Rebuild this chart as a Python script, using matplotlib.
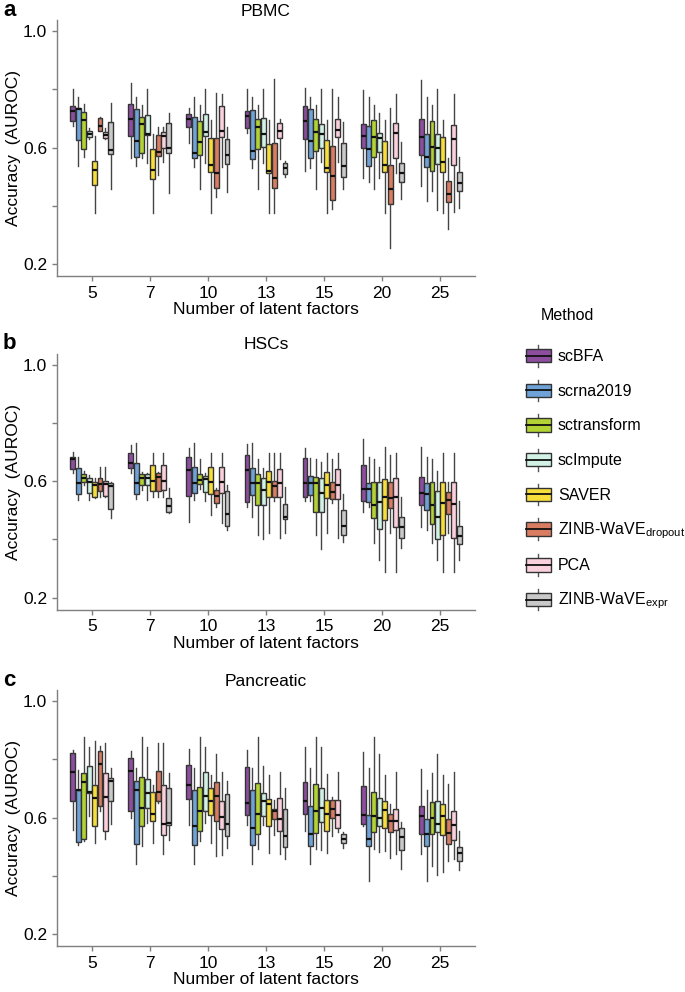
import matplotlib
matplotlib.use("Agg")
import matplotlib.pyplot as plt
from matplotlib.patches import Rectangle, Patch
from matplotlib.lines import Line2D
from matplotlib.legend_handler import HandlerBase

plt.rcParams['font.family'] = ['Liberation Sans', 'DejaVu Sans']
plt.rcParams['mathtext.default'] = 'regular'

factors = ["5", "7", "10", "13", "15", "20", "25"]
methods = ["scBFA", "scrna2019", "sctransform", "scImpute", "SAVER",
           "ZINB-WaVE_dropout", "PCA", "ZINB-WaVE_expr"]
method_labels = ["scBFA", "scrna2019", "sctransform", "scImpute", "SAVER",
                 "ZINB-WaVE$_{dropout}$", "PCA", "ZINB-WaVE$_{expr}$"]
colors = ["#8D4E9F", "#6FA3D8", "#B3D335", "#D3F2E6", "#F7DE3A",
          "#D97D62", "#FAD0DC", "#C9C9C9"]

# each entry: per factor [whisker_low, q1, median, q3, whisker_high]
pbmc = {
    "scBFA": [[0.674,0.692,0.725,0.742,0.80],[0.563,0.638,0.698,0.748,0.823],[0.614,0.669,0.698,0.714,0.735],[0.649,0.668,0.709,0.725,0.80],[0.519,0.629,0.691,0.742,0.803],[0.494,0.597,0.639,0.68,0.797],[0.469,0.574,0.635,0.698,0.832]],
    "scrna2019": [[0.536,0.626,0.731,0.735,0.773],[0.537,0.567,0.623,0.731,0.772],[0.534,0.563,0.582,0.704,0.772],[0.529,0.559,0.588,0.729,0.772],[0.529,0.563,0.623,0.731,0.772],[0.48,0.536,0.594,0.674,0.772],[0.416,0.534,0.568,0.646,0.772]],
    "sctransform": [[0.566,0.594,0.694,0.721,0.748],[0.565,0.581,0.681,0.706,0.746],[0.456,0.574,0.618,0.691,0.746],[0.456,0.594,0.669,0.698,0.746],[0.456,0.588,0.652,0.697,0.746],[0.456,0.568,0.635,0.694,0.746],[0.451,0.519,0.603,0.692,0.746]],
    "scImpute": [[0.63,0.635,0.646,0.658,0.667],[0.546,0.643,0.646,0.712,0.80],[0.546,0.639,0.654,0.714,0.80],[0.546,0.603,0.646,0.70,0.80],[0.55,0.599,0.646,0.68,0.80],[0.494,0.586,0.631,0.651,0.72],[0.385,0.542,0.597,0.645,0.80]],
    "SAVER": [[0.376,0.472,0.523,0.553,0.64],[0.376,0.493,0.523,0.595,0.646],[0.376,0.517,0.54,0.634,0.694],[0.376,0.513,0.519,0.612,0.694],[0.376,0.517,0.529,0.626,0.694],[0.376,0.517,0.54,0.622,0.694],[0.376,0.515,0.551,0.637,0.694]],
    "ZINB-WaVE_dropout": [[0.655,0.656,0.674,0.70,0.706],[0.506,0.571,0.586,0.643,0.669],[0.431,0.462,0.513,0.634,0.788],[0.374,0.462,0.494,0.614,0.834],[0.388,0.42,0.502,0.605,0.80],[0.254,0.406,0.456,0.54,0.735],[0.319,0.412,0.439,0.486,0.565]],
    "PCA": [[0.628,0.632,0.643,0.654,0.668],[0.551,0.597,0.639,0.654,0.669],[0.534,0.635,0.657,0.744,0.783],[0.56,0.634,0.657,0.685,0.697],[0.551,0.637,0.66,0.697,0.775],[0.511,0.565,0.649,0.685,0.783],[0.377,0.54,0.628,0.677,0.783]],
    "ZINB-WaVE_expr": [[0.457,0.577,0.591,0.689,0.752],[0.443,0.58,0.599,0.685,0.717],[0.446,0.543,0.574,0.628,0.669],[0.50,0.508,0.531,0.548,0.554],[0.456,0.50,0.537,0.617,0.686],[0.423,0.483,0.513,0.546,0.62],[0.391,0.451,0.477,0.517,0.566]],
}

hscs = {
    "scBFA": [[0.626,0.64,0.676,0.683,0.70],[0.626,0.644,0.661,0.695,0.724],[0.458,0.55,0.638,0.681,0.712],[0.51,0.529,0.638,0.689,0.727],[0.53,0.544,0.594,0.68,0.714],[0.495,0.531,0.573,0.655,0.743],[0.443,0.518,0.558,0.613,0.718]],
    "scrna2019": [[0.535,0.554,0.592,0.644,0.681],[0.537,0.554,0.592,0.663,0.729],[0.535,0.56,0.592,0.647,0.729],[0.477,0.552,0.592,0.646,0.729],[0.53,0.552,0.592,0.618,0.678],[0.51,0.529,0.571,0.594,0.683],[0.432,0.50,0.554,0.592,0.681]],
    "sctransform": [[0.586,0.598,0.611,0.624,0.634],[0.569,0.586,0.611,0.624,0.632],[0.571,0.589,0.603,0.624,0.676],[0.414,0.518,0.592,0.624,0.676],[0.414,0.495,0.592,0.615,0.676],[0.386,0.472,0.518,0.598,0.676],[0.386,0.452,0.518,0.598,0.676]],
    "scImpute": [[0.535,0.56,0.598,0.609,0.621],[0.535,0.586,0.609,0.623,0.626],[0.532,0.561,0.607,0.618,0.626],[0.40,0.518,0.569,0.609,0.644],[0.365,0.495,0.56,0.609,0.666],[0.329,0.434,0.527,0.598,0.649],[0.329,0.40,0.475,0.567,0.634]],
    "SAVER": [[0.54,0.546,0.586,0.598,0.609],[0.546,0.566,0.60,0.655,0.695],[0.483,0.554,0.598,0.647,0.695],[0.422,0.544,0.598,0.635,0.695],[0.422,0.54,0.586,0.63,0.695],[0.289,0.466,0.546,0.606,0.718],[0.289,0.414,0.523,0.596,0.695]],
    "ZINB-WaVE_dropout": [[0.546,0.566,0.59,0.609,0.649],[0.546,0.566,0.615,0.626,0.632],[0.51,0.523,0.548,0.569,0.575],[0.53,0.546,0.583,0.60,0.695],[0.525,0.538,0.563,0.598,0.676],[0.422,0.506,0.543,0.598,0.689],[0.422,0.487,0.535,0.561,0.598]],
    "PCA": [[0.546,0.548,0.589,0.60,0.649],[0.546,0.569,0.60,0.655,0.695],[0.457,0.558,0.598,0.649,0.695],[0.403,0.544,0.594,0.641,0.695],[0.403,0.537,0.586,0.641,0.695],[0.289,0.443,0.546,0.609,0.695],[0.289,0.403,0.52,0.596,0.695]],
    "ZINB-WaVE_expr": [[0.472,0.503,0.584,0.592,0.598],[0.49,0.495,0.514,0.543,0.575],[0.432,0.447,0.487,0.566,0.586],[0.42,0.47,0.477,0.52,0.58],[0.392,0.414,0.447,0.50,0.554],[0.369,0.405,0.443,0.477,0.544],[0.329,0.384,0.411,0.447,0.532]],
}

pancreatic = {
    "scBFA": [[0.558,0.658,0.756,0.821,0.832],[0.598,0.623,0.758,0.804,0.83],[0.575,0.663,0.71,0.781,0.835],[0.573,0.607,0.65,0.772,0.832],[0.552,0.612,0.655,0.722,0.841],[0.57,0.578,0.61,0.707,0.824],[0.475,0.545,0.604,0.64,0.767]],
    "scrna2019": [[0.507,0.515,0.693,0.695,0.764],[0.442,0.51,0.695,0.727,0.77],[0.442,0.507,0.572,0.695,0.77],[0.442,0.504,0.564,0.695,0.77],[0.442,0.503,0.544,0.641,0.77],[0.381,0.501,0.527,0.607,0.77],[0.381,0.503,0.545,0.596,0.695]],
    "sctransform": [[0.52,0.526,0.722,0.754,0.878],[0.501,0.572,0.633,0.739,0.878],[0.52,0.555,0.623,0.704,0.878],[0.492,0.545,0.613,0.72,0.878],[0.492,0.547,0.624,0.715,0.878],[0.492,0.549,0.604,0.686,0.878],[0.433,0.545,0.598,0.652,0.754]],
    "scImpute": [[0.604,0.683,0.686,0.777,0.843],[0.581,0.633,0.684,0.732,0.843],[0.581,0.621,0.675,0.756,0.843],[0.575,0.606,0.655,0.684,0.777],[0.49,0.585,0.633,0.703,0.843],[0.481,0.57,0.60,0.667,0.817],[0.402,0.549,0.579,0.655,0.817]],
    "SAVER": [[0.513,0.572,0.667,0.712,0.861],[0.513,0.589,0.612,0.689,0.712],[0.513,0.61,0.655,0.701,0.747],[0.478,0.572,0.646,0.664,0.747],[0.478,0.555,0.613,0.661,0.749],[0.484,0.564,0.627,0.658,0.747],[0.413,0.539,0.604,0.646,0.747]],
    "ZINB-WaVE_dropout": [[0.621,0.638,0.784,0.83,0.847],[0.65,0.658,0.689,0.758,0.855],[0.467,0.587,0.675,0.722,0.818],[0.541,0.595,0.621,0.629,0.66],[0.535,0.598,0.63,0.659,0.672],[0.461,0.549,0.587,0.613,0.646],[0.45,0.509,0.547,0.596,0.715]],
    "PCA": [[0.527,0.552,0.669,0.754,0.857],[0.473,0.541,0.579,0.71,0.857],[0.47,0.561,0.602,0.655,0.756],[0.473,0.552,0.595,0.667,0.756],[0.55,0.564,0.61,0.661,0.756],[0.473,0.556,0.587,0.63,0.756],[0.459,0.524,0.575,0.621,0.756]],
    "ZINB-WaVE_expr": [[0.579,0.658,0.724,0.737,0.77],[0.524,0.575,0.581,0.703,0.752],[0.495,0.535,0.578,0.68,0.727],[0.458,0.499,0.535,0.629,0.701],[0.496,0.513,0.526,0.545,0.549],[0.424,0.487,0.532,0.564,0.585],[0.421,0.452,0.478,0.498,0.555]],
}

panels = [("a", "PBMC", pbmc), ("b", "HSCs", hscs), ("c", "Pancreatic", pancreatic)]

W, H = 685, 992
fig = plt.figure(figsize=(W / 100, H / 100), dpi=100)
fig.patch.set_facecolor("white")

axis_col = "#7f7f7f"
slot = 0.75 / len(methods)
tops = [20, 353.5, 690]

for (letter, title, data), top in zip(panels, tops):
    ax_h = 256
    ax = fig.add_axes([57 / W, 1 - (top + ax_h) / H, 418 / W, ax_h / H])
    for j, m in enumerate(methods):
        stats = []
        for row in data[m]:
            lo, q1, med, q3, hi = row
            stats.append(dict(whislo=lo, q1=q1, med=med, q3=q3, whishi=hi, fliers=[]))
        pos = [i + (j - (len(methods) - 1) / 2) * slot for i in range(len(factors))]
        ax.bxp(stats, positions=pos, widths=slot * 0.9, patch_artist=True,
               showfliers=False, showcaps=False, manage_ticks=False,
               boxprops=dict(facecolor=colors[j], edgecolor="#333333", linewidth=1.0),
               medianprops=dict(color="#111111", linewidth=1.6),
               whiskerprops=dict(color="#444444", linewidth=1.0))
    ax.set_xlim(-0.6, 6.6)
    ax.set_ylim(0.1588, 1.0378)
    ax.set_xticks(range(len(factors)))
    ax.set_xticklabels(factors)
    ax.set_yticks([0.2, 0.4, 0.6, 0.8, 1.0])
    ax.set_yticklabels(["0.2", "", "0.6", "", "1.0"])
    for s in ["top", "right"]:
        ax.spines[s].set_visible(False)
    for s in ["left", "bottom"]:
        ax.spines[s].set_color(axis_col)
        ax.spines[s].set_linewidth(1.0)
    ax.tick_params(axis="both", colors=axis_col, labelcolor="black", length=3.5,
                   width=1.0, labelsize=12.5)
    ax.set_xlabel("Number of latent factors", fontsize=12.5, labelpad=1)
    ax.set_ylabel("Accuracy  (AUROC)", fontsize=12.5)
    ax.yaxis.set_label_coords(-0.086, 0.5)
    ax.set_title(title, fontsize=12.5, pad=3)
    fig.text(3 / W, 1 - (top - 10) / H, letter, fontsize=16, fontweight="bold",
             va="center", ha="left")


class BoxHandler(HandlerBase):
    def create_artists(self, legend, orig_handle, xdescent, ydescent, width,
                       height, fontsize, trans):
        fc = orig_handle.get_facecolor()
        bh = height * 0.62
        x0 = -xdescent
        yb = -ydescent
        y0 = yb + (height - bh) / 2
        rect = Rectangle((x0, y0), width, bh, facecolor=fc, edgecolor="#333333",
                         linewidth=1.0, transform=trans)
        med = Line2D([x0, x0 + width], [y0 + bh / 2] * 2, color="#111111",
                     linewidth=1.3, transform=trans)
        wt = Line2D([x0 + width / 2] * 2, [y0 + bh, yb + height], color="#555555",
                    linewidth=1.0, transform=trans)
        wb = Line2D([x0 + width / 2] * 2, [yb, y0], color="#555555",
                    linewidth=1.0, transform=trans)
        return [wt, wb, rect, med]


handles = [Patch(facecolor=c) for c in colors]
leg = fig.legend(handles, method_labels, loc="upper left",
                 bbox_to_anchor=(526 / W, 1 - 345 / H), frameon=False,
                 fontsize=11.5, handlelength=1.55, handleheight=1.7,
                 labelspacing=0.82, handletextpad=0.45, borderpad=0,
                 borderaxespad=0,
                 handler_map={Patch: BoxHandler()})
fig.text(541 / W, 1 - 316 / H, "Method", fontsize=11.5, va="center", ha="left")

fig.savefig("out.png", dpi=100, facecolor="white")
